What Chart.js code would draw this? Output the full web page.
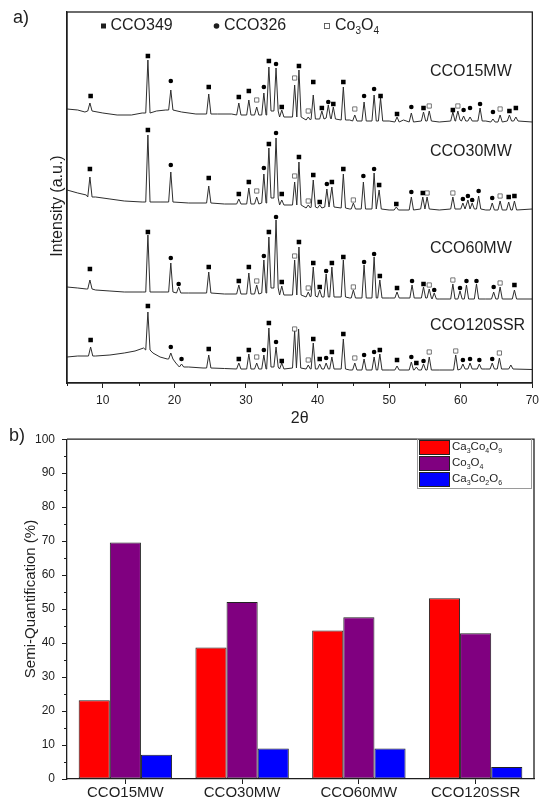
<!DOCTYPE html>
<html><head><meta charset="utf-8">
<script src="https://cdn.jsdelivr.net/npm/chart.js@4.4.0/dist/chart.umd.min.js"></script>
<style>
body{margin:0;background:#fff;width:544px;height:803px;overflow:hidden;position:relative}
canvas{position:absolute;left:0}
</style></head>
<body>
<canvas id="xrd" width="544" height="425" style="top:0"></canvas>
<canvas id="bar" width="544" height="378" style="top:425px"></canvas>
<script>
// ---------- Panel a) XRD data (2theta, intensity a.u.) ----------
const TOP_X_TICKS = [10, 20, 30, 40, 50, 60, 70];
const TOP_X_MINOR = [5, 15, 25, 35, 45, 55, 65];
const SAMPLE_NAMES = ['CCO15MW', 'CCO30MW', 'CCO60MW', 'CCO120SSR'];

// baseline anchors [2theta, intensity]
const T1_BASE = [[5,274],[6.5,273],[7.5,271],[10,270],[12,268],[14,268],[15.5,270],[17.5,272],[18.8,273],[21,271],[23,269],[26,269],[28,269],[44.5,263],[50,262],[52,263],[57,261],[63.5,262],[70,261]];
const T2_BASE = [[5,193],[6.5,190],[7.7,188],[9,186],[11,184],[13,182],[15.5,181],[18,181],[22,180],[27,179],[44.5,174],[50,173],[57,173],[63.5,173],[70,174]];
const T3_BASE = [[5,96],[6.5,95],[7.7,94],[9,93],[11,92],[13,91],[15.5,91],[18,91],[22,90],[27,89],[44.5,85],[50,85],[57,84],[63.5,84],[70,84]];
const T4_BASE = [[5,26],[6.5,27],[7.8,27],[9,27],[11,28],[13,30],[14.5,32],[15.7,35],[17,30],[18,26],[19,24],[20.2,20],[22,16],[24,15],[27,14.5],[44.5,13],[50,13],[57,13],[63.5,14],[70,13.5]];

// peaks [2theta, top, local base]
const T1_PEAKS = [[8.2,280,272],[16.3,323,270],[19.5,293,273],[24.8,289,269],[29.0,280,268],[30.4,283,268],[31.5,276,268],[32.5,290,268],[33.2,316,272],[34.2,315,272],[35.0,273,266],[36.8,298,266],[37.4,313,266],[38.7,266,263],[39.4,288,264],[40.6,272,264],[41.5,278,265],[42.2,276,264],[43.6,296,263],[45.2,268,262],[46.5,281,262],[47.9,288,262],[48.8,285,262],[51.1,266,261],[53.1,270,261],[54.8,271,262],[55.6,272,262],[58.9,271,262],[59.6,272,263],[60.4,267,262],[61.3,266,262],[62.7,275,262],[64.5,264,261],[65.5,268,261],[66.8,268,262],[67.7,266,262]];
const T2_PEAKS = [[8.2,206,186],[16.3,248,181],[19.5,211,181],[24.8,197,180],[29.0,184,179],[30.4,195,179],[31.5,186,179],[32.5,209,180],[33.2,235,185],[34.2,245,185],[35.0,183,178],[36.8,201,178],[37.4,221,178],[38.7,178,175],[39.4,203,176],[40.3,178,175],[41.3,194,176],[42.0,196,176],[43.6,209,175],[45.0,180,174],[46.4,201,174],[47.9,210,174],[48.6,193,174],[51.0,176,173],[53.1,186,173],[54.7,186,174],[55.3,186,174],[58.9,186,174],[60.3,180,174],[61.0,183,174],[61.6,180,174],[62.5,187,174],[64.4,180,173],[65.5,182,173],[66.7,181,173],[67.5,182,173]];
const T3_PEAKS = [[8.2,103,94],[16.3,148,91],[19.5,120,91],[20.6,96,90],[24.8,111,90],[29.0,98,89],[30.4,110,89],[31.5,98,89],[32.5,123,90],[33.2,146,95],[34.2,163,95],[35.0,97,88],[36.8,123,88],[37.4,136,88],[38.7,91,86],[39.4,116,87],[40.3,93,86],[41.2,109,86],[42.0,116,86],[43.6,123,86],[45.0,93,85],[46.5,118,85],[47.9,126,85],[48.7,103,85],[51.1,91,85],[53.2,98,85],[54.8,96,85],[55.6,94,85],[56.3,90,84],[58.9,99,84],[59.9,92,84],[60.8,98,84],[62.2,99,84],[64.6,91,84],[65.5,96,84],[67.5,93,84]];
const T4_PEAKS = [[8.3,36,27],[16.3,71,33],[19.5,30,24],[21.0,19,16],[24.8,28,15],[29.0,20,14],[30.4,29,14],[31.5,20,14],[32.5,28,14],[33.2,55,16],[34.2,36,16],[35.0,20,14],[36.8,52,15],[37.35,54,15],[38.7,18,14],[39.4,40,14],[40.3,19,14],[41.2,20,14],[42.0,26,14],[43.6,44,14],[45.2,20,13],[46.5,24,13],[47.9,26,13],[48.7,29,13],[51.1,17,13],[53.1,21,13],[53.8,16,13],[54.8,19,13],[55.6,26,13],[59.3,28,13],[60.3,19,14],[61.3,20,14],[62.6,19,14],[64.4,20,14],[65.4,25,14],[67.0,18,14]];

// phase markers [2theta, intensity, phase]  a = CCO349, b = CCO326, c = Co3O4
const T1_MARKS = [[8.3,287,'a'],[16.3,327,'a'],[19.5,302,'b'],[24.8,296,'a'],[29.0,286,'a'],[30.4,292,'a'],[31.5,283,'c'],[32.5,296,'b'],[33.2,322,'a'],[34.2,319,'b'],[35.0,276,'a'],[36.8,305,'c'],[37.4,317,'a'],[38.7,272,'c'],[39.4,301,'a'],[40.6,275,'a'],[41.5,281,'b'],[42.2,279,'a'],[43.6,301,'a'],[45.2,274,'c'],[46.5,287,'b'],[47.9,294,'b'],[48.8,287,'a'],[51.1,269,'a'],[53.1,276,'b'],[54.8,275,'a'],[55.6,277,'c'],[58.9,273,'a'],[59.6,277,'c'],[60.4,273,'b'],[61.3,275,'b'],[62.7,279,'b'],[64.5,271,'b'],[65.5,274,'c'],[66.8,272,'a'],[67.7,275,'a']];
const T2_MARKS = [[8.2,214,'a'],[16.3,253,'a'],[19.5,218,'b'],[24.8,205,'a'],[29.0,189,'a'],[30.4,201,'a'],[31.5,192,'c'],[32.5,215,'b'],[33.2,239,'a'],[34.2,250,'b'],[35.0,189,'a'],[36.8,207,'c'],[37.4,226,'a'],[38.7,182,'c'],[39.4,208,'a'],[40.3,181,'a'],[41.3,199,'b'],[42.0,201,'a'],[43.6,214,'a'],[45.0,183,'c'],[46.4,207,'b'],[47.9,214,'b'],[48.6,198,'a'],[51.0,179,'a'],[53.1,191,'b'],[54.7,190,'a'],[55.3,190,'c'],[58.9,190,'c'],[60.3,184,'b'],[61.0,187,'b'],[61.6,183,'b'],[62.5,192,'b'],[64.4,185,'b'],[65.5,187,'c'],[66.7,186,'a'],[67.5,187,'a']];
const T3_MARKS = [[8.2,114,'a'],[16.3,151,'a'],[19.5,125,'b'],[20.6,99,'b'],[24.8,116,'a'],[29.0,102,'a'],[30.4,116,'a'],[31.5,102,'c'],[32.5,127,'b'],[33.2,151,'a'],[34.2,166,'b'],[35.0,101,'a'],[36.8,127,'c'],[37.4,141,'a'],[38.7,95,'c'],[39.4,120,'a'],[40.3,96,'a'],[41.2,112,'b'],[42.0,120,'a'],[43.6,126,'a'],[45.0,96,'c'],[46.5,121,'b'],[47.9,129,'b'],[48.7,107,'a'],[51.1,95,'a'],[53.2,102,'b'],[54.8,99,'a'],[55.6,98,'c'],[56.3,93,'b'],[58.9,103,'c'],[59.9,95,'b'],[60.8,102,'b'],[62.2,102,'b'],[64.6,96,'b'],[65.5,100,'c'],[67.5,98,'a']];
const T4_MARKS = [[8.3,43,'a'],[16.3,77,'a'],[19.5,36,'b'],[21.0,24,'b'],[24.8,34,'a'],[29.0,24,'a'],[30.4,33,'a'],[31.5,26,'c'],[32.5,33,'b'],[33.2,60,'a'],[34.2,41,'b'],[35.0,22,'a'],[36.8,54,'c'],[38.7,23,'c'],[39.4,44,'a'],[40.3,24,'a'],[41.2,25,'b'],[42.0,31,'a'],[43.6,49,'a'],[45.2,25,'c'],[46.5,28,'b'],[47.9,31,'b'],[48.7,33,'a'],[51.1,23,'a'],[53.1,26,'b'],[53.8,20,'a'],[54.8,22,'b'],[55.6,31,'c'],[59.3,32,'c'],[60.3,23,'b'],[61.3,24,'b'],[62.6,23,'b'],[64.4,24,'b'],[65.4,30,'c']];

// ---------- Panel b) semi-quantification ----------
const BAR_SAMPLES = ['CCO15MW', 'CCO30MW', 'CCO60MW', 'CCO120SSR'];
const CA3CO4O9 = [23.2, 38.7, 43.7, 53.2];
const CO3O4 = [69.6, 52.1, 47.6, 42.9];
const CA3CO2O6 = [7.1, 9.0, 9.0, 3.5];
const BAR_Y_MINOR = [5, 15, 25, 35, 45, 55, 65, 75, 85, 95];

// ---------- helpers ----------
Chart.defaults.font.family = "'Liberation Sans', Arial, sans-serif";
Chart.defaults.color = '#1a1a1a';
const INK = '#1e1e1e';
const PEAK_HALF = 0.3;

function buildTrace(base, peaks) {
  const pts = base.filter(b => !peaks.some(p => Math.abs(b[0] - p[0]) < PEAK_HALF + 0.05))
                  .map(b => ({x: b[0], y: b[1]}));
  peaks.forEach(p => {
    pts.push({x: p[0] - PEAK_HALF, y: p[2]}, {x: p[0], y: p[1]}, {x: p[0] + PEAK_HALF, y: p[2]});
  });
  pts.sort((a, b) => a.x - b.x);
  return pts;
}
function chem(ctx, segs, x, y, size) {
  let cx = x;
  segs.forEach(([t, sub]) => {
    const s = sub ? Math.round(size * 0.62) : size;
    ctx.font = s + "px 'Liberation Sans', Arial, sans-serif";
    ctx.fillText(t, cx, sub ? y + size * 0.32 : y);
    cx += ctx.measureText(t).width;
  });
}

const ALL_BASE = [T1_BASE, T2_BASE, T3_BASE, T4_BASE];
const ALL_PEAKS = [T1_PEAKS, T2_PEAKS, T3_PEAKS, T4_PEAKS];
const ALL_MARKS = [T1_MARKS, T2_MARKS, T3_MARKS, T4_MARKS];

const markAll = ALL_MARKS.flat();
const pick = k => markAll.filter(m => m[2] === k).map(m => ({x: m[0], y: m[1]}));

const xrdSets = [
  {data: pick('a'), pointStyle: 'rect', pointRadius: 3.2, backgroundColor: '#000', borderColor: '#000', borderWidth: 0, showLine: false, order: 0},
  {data: pick('b'), pointStyle: 'circle', pointRadius: 2.3, backgroundColor: '#000', borderColor: '#000', borderWidth: 0, showLine: false, order: 0},
  {data: pick('c'), pointStyle: 'rect', pointRadius: 3.0, backgroundColor: '#fff', borderColor: '#555', borderWidth: 0.8, showLine: false, order: 0}
];
ALL_BASE.forEach((b, i) => {
  xrdSets.push({label: SAMPLE_NAMES[i], data: buildTrace(b, ALL_PEAKS[i]), showLine: true, pointRadius: 0,
    borderColor: '#2e2e2e', borderWidth: 1, tension: 0, order: 1});
});

const SAMPLE_LABEL_Y = [71.7, 151.7, 248.5, 326];

const xrdDeco = {
  id: 'xrdDeco',
  afterDraw(chart) {
    const ctx = chart.ctx, a = chart.chartArea, sx = chart.scales.x;
    ctx.save();
    ctx.strokeStyle = INK; ctx.lineWidth = 1.3;
    ctx.strokeRect(a.left, a.top, a.right - a.left, a.bottom - a.top);
    ctx.lineWidth = 1;
    TOP_X_MINOR.forEach(v => {
      const x = Math.round(sx.getPixelForValue(v)) + 0.5;
      ctx.beginPath(); ctx.moveTo(x, a.bottom); ctx.lineTo(x, a.bottom + 3); ctx.stroke();
    });
    ctx.fillStyle = INK; ctx.textBaseline = 'middle'; ctx.textAlign = 'left';
    ctx.fillRect(101, 23.5, 5, 5);
    ctx.font = "16px 'Liberation Sans', Arial, sans-serif";
    ctx.fillText('CCO349', 110.5, 26);
    ctx.beginPath(); ctx.arc(216.5, 26, 2.8, 0, Math.PI * 2); ctx.fill();
    ctx.fillText('CCO326', 224, 26);
    ctx.strokeStyle = '#555'; ctx.lineWidth = 0.9;
    ctx.strokeRect(324.5, 23.5, 5, 5);
    chem(ctx, [['Co', 0], ['3', 1], ['O', 0], ['4', 1]], 335, 26, 16);
    ctx.font = "16px 'Liberation Sans', Arial, sans-serif";
    SAMPLE_NAMES.forEach((n, i) => ctx.fillText(n, 430, SAMPLE_LABEL_Y[i]));
    ctx.font = "18px 'Liberation Sans', Arial, sans-serif";
    ctx.fillText('a)', 13, 18);
    ctx.textAlign = 'center';
    ctx.font = "16px 'Liberation Sans', Arial, sans-serif";
    ctx.fillText('2\u03B8', (a.left + a.right) / 2, 419);
    ctx.translate(58, 206); ctx.rotate(-Math.PI / 2);
    ctx.fillText('Intensity (a.u.)', 0, 0);
    ctx.restore();
  }
};

new Chart(document.getElementById('xrd'), {
  type: 'scatter',
  data: {datasets: xrdSets},
  options: {
    responsive: false, animation: false, devicePixelRatio: 1,
    layout: {padding: {top: 12, right: 7, left: 0, bottom: 0}},
    plugins: {legend: {display: false}, tooltip: {enabled: false}},
    scales: {
      x: {type: 'linear', min: 5, max: 70,
        afterBuildTicks: s => { s.ticks = TOP_X_TICKS.map(v => ({value: v})); },
        afterFit: s => { s.height = 42; },
        grid: {display: true, drawOnChartArea: false, drawTicks: true, tickLength: 5, color: INK, lineWidth: 1},
        border: {display: true, color: INK, width: 1.3},
        ticks: {font: {size: 12}, padding: 5, color: INK, maxRotation: 0, autoSkip: false}},
      y: {min: 0, max: 371,
        afterFit: s => { s.width = 67; },
        ticks: {display: false}, grid: {display: false},
        border: {display: true, color: INK, width: 1.3}}
    }
  },
  plugins: [xrdDeco]
});

// ---------- bar chart ----------
const BAR_COLORS = ['#ff0000', '#800080', '#0000ff'];
const LEGEND_CHEM = [
  [['Ca', 0], ['3', 1], ['Co', 0], ['4', 1], ['O', 0], ['9', 1]],
  [['Co', 0], ['3', 1], ['O', 0], ['4', 1]],
  [['Ca', 0], ['3', 1], ['Co', 0], ['2', 1], ['O', 0], ['6', 1]]
];
const barDeco = {
  id: 'barDeco',
  afterDraw(chart) {
    const ctx = chart.ctx, a = chart.chartArea, sy = chart.scales.y;
    ctx.save();
    ctx.strokeStyle = INK; ctx.lineWidth = 1.3;
    ctx.beginPath();
    ctx.moveTo(a.left, a.top); ctx.lineTo(a.right, a.top); ctx.lineTo(a.right, a.bottom);
    ctx.stroke();
    ctx.lineWidth = 1;
    BAR_Y_MINOR.forEach(v => {
      const y = Math.round(sy.getPixelForValue(v)) + 0.5;
      ctx.beginPath(); ctx.moveTo(a.left, y); ctx.lineTo(a.left - 3, y); ctx.stroke();
    });
    ctx.strokeStyle = '#9a9a9a'; ctx.lineWidth = 1;
    ctx.strokeRect(417.5, 13.5, 114, 50);
    const rows = [15, 31, 47];
    ctx.textBaseline = 'middle'; ctx.textAlign = 'left'; ctx.fillStyle = INK;
    rows.forEach((ry, i) => {
      ctx.fillStyle = BAR_COLORS[i];
      ctx.fillRect(419.5, ry + 0.5, 30, 14);
      ctx.strokeStyle = '#222'; ctx.strokeRect(419.5, ry + 0.5, 30, 14);
      ctx.fillStyle = INK;
      chem(ctx, LEGEND_CHEM[i], 452, ry + 7, 11.5);
    });
    ctx.font = "18px 'Liberation Sans', Arial, sans-serif";
    ctx.fillText('b)', 9, 11);
    ctx.textAlign = 'center';
    ctx.font = "15px 'Liberation Sans', Arial, sans-serif";
    ctx.translate(31, 174); ctx.rotate(-Math.PI / 2);
    ctx.fillText('Semi-Quantification (%)', 0, 0);
    ctx.restore();
  }
};

new Chart(document.getElementById('bar'), {
  type: 'bar',
  data: {
    labels: BAR_SAMPLES,
    datasets: [
      {label: 'Ca3Co4O9', data: CA3CO4O9, backgroundColor: BAR_COLORS[0]},
      {label: 'Co3O4', data: CO3O4, backgroundColor: BAR_COLORS[1]},
      {label: 'Ca3Co2O6', data: CA3CO2O6, backgroundColor: BAR_COLORS[2]}
    ]
  },
  options: {
    responsive: false, animation: false, devicePixelRatio: 1,
    layout: {padding: {top: 7, right: 10, left: 0, bottom: 0}},
    datasets: {bar: {categoryPercentage: 0.8, barPercentage: 1.0, borderColor: '#222', borderWidth: 1, borderSkipped: false}},
    plugins: {legend: {display: false}, tooltip: {enabled: false}},
    scales: {
      x: {grid: {offset: false, drawOnChartArea: false, drawTicks: true, tickLength: 5, color: INK},
        border: {display: true, color: INK, width: 1.3},
        ticks: {font: {size: 15}, padding: 0, color: INK, maxRotation: 0},
        afterFit: s => { s.height = 24; }},
      y: {min: 0, max: 100,
        ticks: {stepSize: 10, font: {size: 12}, padding: 7, color: INK},
        grid: {drawOnChartArea: false, drawTicks: true, tickLength: 5, color: INK},
        border: {display: true, color: INK, width: 1.3},
        afterFit: s => { s.width = 67; }}
    }
  },
  plugins: [barDeco]
});
</script>
</body></html>
